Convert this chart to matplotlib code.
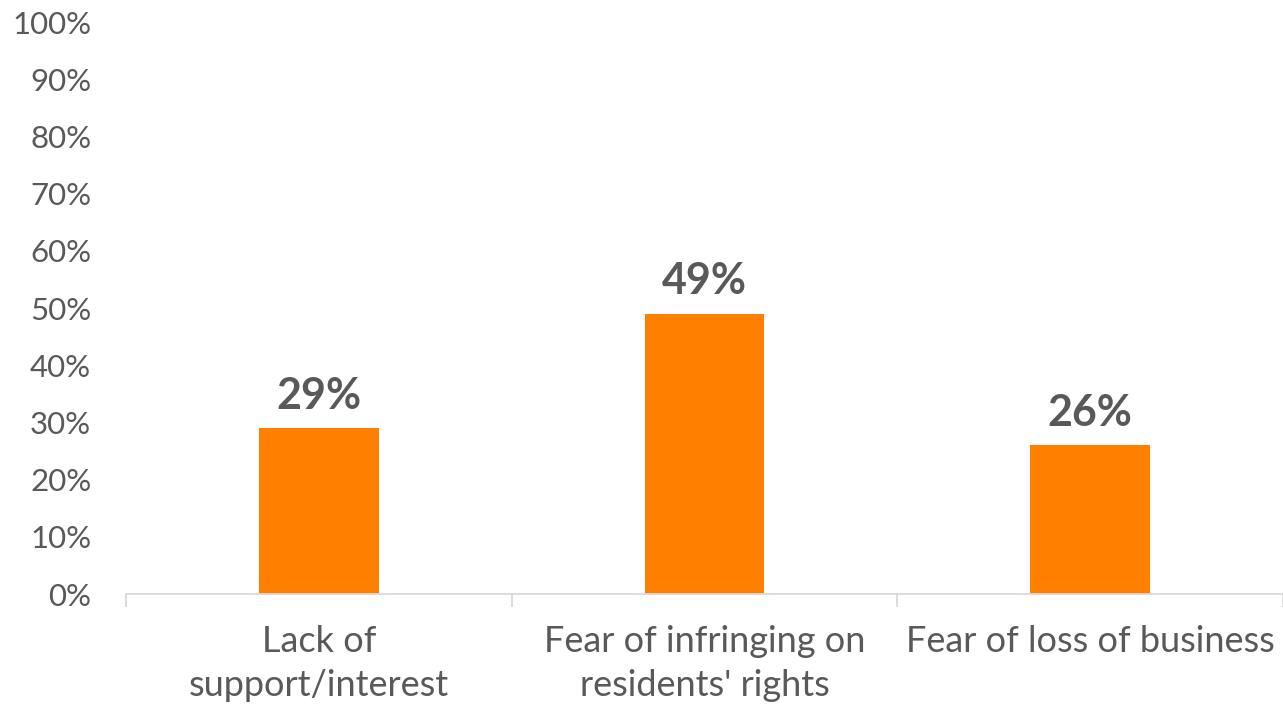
import matplotlib
matplotlib.use("Agg")
import matplotlib.pyplot as plt
from matplotlib.ticker import FixedLocator, PercentFormatter

categories = ["Lack of\nsupport/interest", "Fear of infringing on\nresidents' rights",
              "Fear of loss of business"]
values = [29, 49, 26]
labels = ["29%", "49%", "26%"]

TEXT = "#595959"
ORANGE = "#FF8000"
AXIS = "#D9D9D9"

plt.rcParams["font.family"] = ["Lato", "DejaVu Sans"]

fig = plt.figure(figsize=(12.83, 7.06), dpi=100)
ax = fig.add_axes([126 / 1283, 1 - 594 / 706, 1 - 126 / 1283, (594 - 22) / 706])

x = range(len(categories))
bars = ax.bar(x, values, width=0.31, color=ORANGE, zorder=2)

for b, lab in zip(bars, labels):
    ax.annotate(lab, (b.get_x() + b.get_width() / 2, b.get_height()),
                textcoords="offset points", xytext=(0, 9), ha="center",
                va="bottom", fontsize=31, fontweight="bold", color=TEXT)

ax.set_xlim(-0.5, 2.5)
ax.set_ylim(0, 100)
ax.set_yticks(range(0, 101, 10))
ax.yaxis.set_major_formatter(PercentFormatter(decimals=0))
ax.tick_params(axis="y", length=0, labelsize=22.5, colors=TEXT, pad=25)

ax.set_xticks(list(x))
ax.set_xticklabels(categories, fontsize=26, color=TEXT, linespacing=1.42)
ax.tick_params(axis="x", which="major", length=0, pad=22)
ax.xaxis.set_minor_locator(FixedLocator([-0.5, 0.5, 1.5, 2.5]))
ax.tick_params(axis="x", which="minor", length=9, width=1.3, color=AXIS)

for s in ["top", "right", "left"]:
    ax.spines[s].set_visible(False)
ax.spines["bottom"].set_color(AXIS)
ax.spines["bottom"].set_linewidth(1.3)

fig.savefig("out.png", dpi=100)
